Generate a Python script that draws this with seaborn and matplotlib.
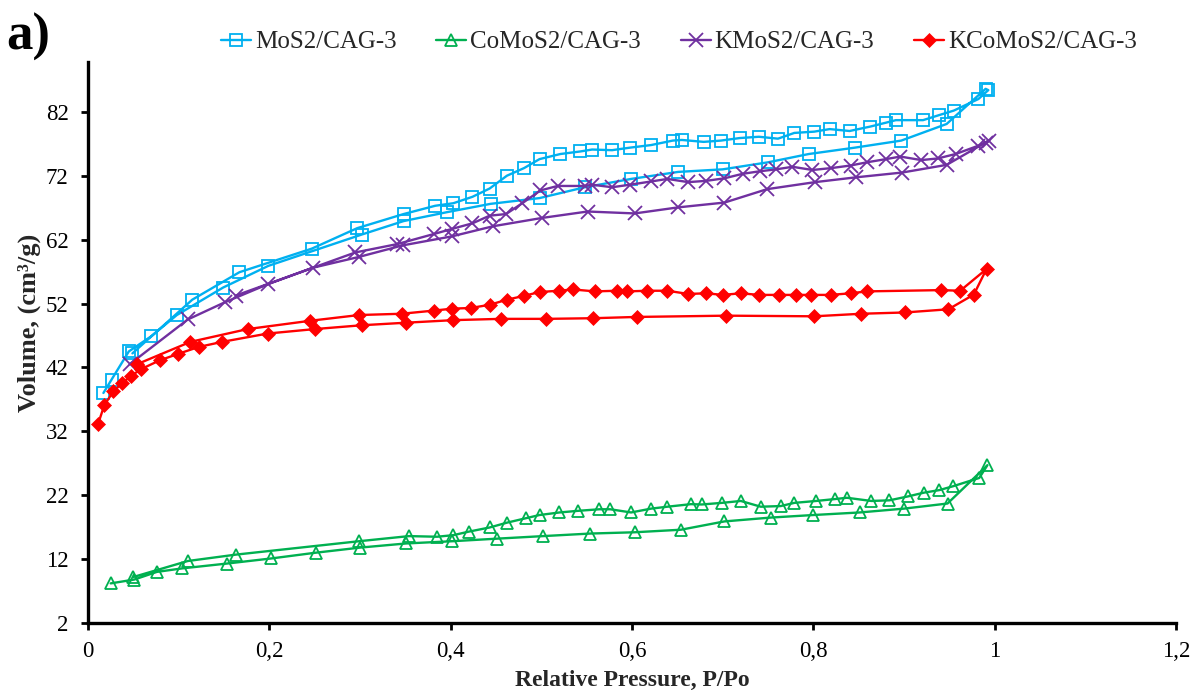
import matplotlib
matplotlib.use("Agg")
import matplotlib.pyplot as plt
import seaborn as sns
import numpy as np
import pandas as pd

# ---------------- data ----------------
series_names = ["MoS2/CAG-3", "CoMoS2/CAG-3", "KMoS2/CAG-3", "KCoMoS2/CAG-3"]

# MoS2/CAG-3
mos2_x_ads = [0.017, 0.026, 0.045, 0.070, 0.098, 0.149, 0.199, 0.302, 0.348, 0.396, 0.444,
              0.498, 0.548, 0.599, 0.651, 0.700, 0.750, 0.795, 0.846, 0.897, 0.947, 0.990]
mos2_y_ads = [38.0, 40.1, 44.5, 46.9, 50.2, 54.5, 57.9, 62.8, 64.9, 66.3, 67.6,
              68.5, 70.2, 71.5, 72.6, 73.0, 74.1, 75.4, 76.4, 77.5, 80.1, 85.6]
mos2_x_des = [0.993, 0.982, 0.955, 0.939, 0.921, 0.891, 0.880, 0.863, 0.840, 0.818, 0.801,
              0.779, 0.761, 0.740, 0.719, 0.698, 0.679, 0.655, 0.645, 0.621, 0.598, 0.578,
              0.556, 0.543, 0.521, 0.498, 0.481, 0.462, 0.443, 0.424, 0.403, 0.383, 0.348,
              0.297, 0.247, 0.167, 0.115, 0.049]
mos2_y_des = [85.4, 84.0, 82.2, 81.5, 80.7, 80.7, 80.3, 79.7, 79.0, 79.3, 78.9,
              78.7, 77.8, 78.1, 77.9, 77.5, 77.3, 77.6, 77.5, 76.8, 76.4, 76.0,
              76.1, 75.8, 75.4, 74.6, 73.2, 72.0, 70.0, 68.7, 67.7, 67.3, 66.0,
              63.8, 60.6, 56.9, 52.6, 44.2]

# CoMoS2/CAG-3
como_x_ads = [0.025, 0.051, 0.076, 0.104, 0.153, 0.202, 0.251, 0.300, 0.351, 0.402, 0.451,
              0.502, 0.554, 0.603, 0.654, 0.702, 0.753, 0.800, 0.851, 0.900, 0.948, 0.992]
como_y_ads = [8.2, 8.8, 10.0, 10.55, 11.3, 12.1, 13.0, 13.8, 14.45, 14.8, 15.2,
              15.6, 16.0, 16.2, 16.6, 17.9, 18.5, 18.9, 19.3, 19.9, 20.7, 26.7]
como_x_des = [0.983, 0.954, 0.939, 0.922, 0.904, 0.884, 0.864, 0.837, 0.824, 0.803, 0.779,
              0.764, 0.742, 0.720, 0.699, 0.677, 0.665, 0.639, 0.621, 0.599, 0.576, 0.564,
              0.540, 0.520, 0.498, 0.483, 0.462, 0.443, 0.420, 0.403, 0.385, 0.354, 0.299,
              0.163, 0.110, 0.050]
como_y_des = [24.7, 23.4, 22.8, 22.4, 21.8, 21.2, 21.1, 21.6, 21.4, 21.1, 20.8,
              20.3, 20.2, 21.1, 20.8, 20.55, 20.6, 20.2, 19.9, 19.3, 19.8, 19.8,
              19.55, 19.3, 18.9, 18.4, 17.7, 16.95, 16.3, 15.75, 15.5, 15.6, 14.8,
              12.7, 11.7, 9.2]

# KMoS2/CAG-3
kmo_x_ads = [0.046, 0.110, 0.151, 0.198, 0.248, 0.299, 0.347, 0.401, 0.447, 0.501, 0.551,
             0.603, 0.651, 0.702, 0.749, 0.802, 0.847, 0.898, 0.947, 0.990]
kmo_y_ads = [42.5, 49.5, 52.2, 55.0, 57.6, 59.3, 61.1, 62.5, 64.1, 65.4, 66.4,
             66.1, 67.05, 67.8, 69.9, 71.0, 71.75, 72.5, 73.7, 77.2]
kmo_x_des = [0.994, 0.982, 0.957, 0.937, 0.919, 0.896, 0.880, 0.859, 0.841, 0.820, 0.799,
             0.777, 0.759, 0.741, 0.722, 0.702, 0.682, 0.662, 0.639, 0.621, 0.598, 0.578,
             0.556, 0.548, 0.518, 0.499, 0.479, 0.461, 0.443, 0.424, 0.402, 0.382, 0.341,
             0.295, 0.163]
kmo_y_des = [77.5, 76.7, 75.4, 74.7, 74.45, 75.0, 74.6, 74.1, 73.6, 73.2, 72.9,
             73.4, 73.0, 72.7, 72.3, 71.6, 71.2, 71.0, 71.5, 71.1, 70.6, 70.2,
             70.6, 70.4, 70.4, 69.7, 67.7, 66.0, 65.75, 64.55, 63.7, 62.9, 61.3,
             60.0, 53.25]

# KCoMoS2/CAG-3
kco_x_ads = [0.011, 0.018, 0.028, 0.038, 0.047, 0.058, 0.079, 0.099, 0.122, 0.148, 0.198,
             0.250, 0.302, 0.351, 0.403, 0.455, 0.505, 0.557, 0.605, 0.704, 0.801, 0.853,
             0.901, 0.949, 0.977, 0.991]
kco_y_ads = [33.1, 36.1, 38.25, 39.6, 40.6, 41.7, 43.1, 44.1, 45.2, 46.0, 47.3,
             48.0, 48.6, 49.0, 49.4, 49.6, 49.6, 49.7, 49.9, 50.1, 50.0, 50.4,
             50.6, 51.1, 53.4, 57.4]
kco_x_des = [0.962, 0.941, 0.859, 0.841, 0.819, 0.797, 0.781, 0.762, 0.740, 0.720, 0.700,
             0.682, 0.662, 0.639, 0.617, 0.595, 0.584, 0.559, 0.535, 0.519, 0.498, 0.481,
             0.462, 0.443, 0.422, 0.402, 0.382, 0.346, 0.299, 0.245, 0.176, 0.113, 0.054]
kco_y_des = [54.0, 54.1, 53.9, 53.6, 53.35, 53.35, 53.35, 53.35, 53.35, 53.6, 53.35,
             53.6, 53.5, 54.0, 54.0, 53.9, 54.0, 53.9, 54.2, 54.0, 53.8, 53.2,
             52.6, 51.8, 51.3, 51.2, 50.9, 50.4, 50.2, 49.3, 48.0, 46.0, 42.5]

x_ticks = [0, 0.2, 0.4, 0.6, 0.8, 1.0, 1.2]
x_tick_labels = ["0", "0,2", "0,4", "0,6", "0,8", "1", "1,2"]
y_ticks = [2, 12, 22, 32, 42, 52, 62, 72, 82]

# ---------------- style ----------------
sns.set_theme(style="white")
plt.rcParams["font.family"] = ["Liberation Serif", "DejaVu Serif"]

fig = plt.figure(figsize=(11.92, 6.90), dpi=100)
ax = fig.add_axes([88 / 1192, 1 - 623 / 690, (1176 - 88) / 1192, (623 - 62) / 690])

colors = ["#00B0F0", "#00B050", "#7030A0", "#FF0000"]
styles = [
    dict(marker="s", markersize=8.5, markerfacecolor="none", markeredgewidth=1.3),
    dict(marker="^", markersize=8.5, markerfacecolor="none", markeredgewidth=1.3),
    dict(marker="x", markersize=9.5, markeredgewidth=1.3),
    dict(marker="D", markersize=7.5, markeredgewidth=0.5),
]
data = [
    (mos2_x_ads + mos2_x_des, mos2_y_ads + mos2_y_des),
    (como_x_ads + como_x_des, como_y_ads + como_y_des),
    (kmo_x_ads + kmo_x_des, kmo_y_ads + kmo_y_des),
    (kco_x_ads + kco_x_des, kco_y_ads + kco_y_des),
]

for name, (xs, ys), c, st in zip(series_names, data, colors, styles):
    df = pd.DataFrame({"x": xs, "y": ys})
    kw = dict(st)
    if kw.get("markerfacecolor") is None:
        kw["markerfacecolor"] = c
    sns.lineplot(data=df, x="x", y="y", sort=False, estimator=None, ax=ax,
                 color=c, linewidth=1.7, markeredgecolor=c, label=name, **kw)

ax.set_xlim(0, 1.2)
ax.set_ylim(2, 89.8)
ax.set_xticks(x_ticks)
ax.set_xticklabels(x_tick_labels)
ax.set_yticks(y_ticks)
ax.set_yticklabels([str(v) for v in y_ticks])

for s in ["top", "right"]:
    ax.spines[s].set_visible(False)
for s in ["left", "bottom"]:
    ax.spines[s].set_color("black")
    ax.spines[s].set_linewidth(2.4)

ax.tick_params(axis="both", which="major", direction="out", length=5, width=2,
               color="black", labelsize=16.5, labelcolor="black",
               left=True, bottom=True)
ax.tick_params(axis="x", pad=8)
ax.tick_params(axis="y", pad=9)

ax.set_xlabel("Relative Pressure, P/Po", fontsize=17, fontweight="bold", labelpad=6)
ax.set_ylabel("Volume, (cm³/g)", fontsize=19, fontweight="bold")
ax.yaxis.set_label_coords(-0.043, 0.535)
ax.grid(False)

leg = ax.legend(loc="center", bbox_to_anchor=(679 / 1192, 1 - 42 / 690),
                bbox_transform=fig.transFigure, ncol=4, frameon=False,
                fontsize=18, handlelength=1.2, handletextpad=0.15,
                columnspacing=1.6, borderaxespad=0)

fig.text(6 / 1192, 1 - 13 / 690, "a)", fontsize=38, fontweight="bold",
         ha="left", va="top", color="black")

fig.savefig("out.png", dpi=100, facecolor="white")
